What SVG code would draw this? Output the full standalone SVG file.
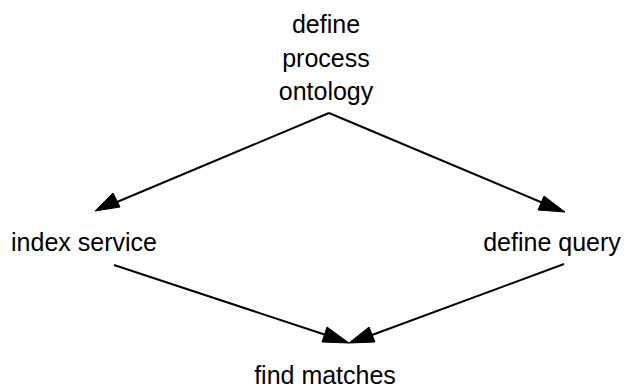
<svg xmlns="http://www.w3.org/2000/svg" width="628" height="389" viewBox="0 0 628 389">
<style>
text{font-family:"Liberation Sans",Arial,sans-serif;font-size:25px;fill:#000;text-anchor:middle}
.e{stroke:#000;stroke-width:2;fill:none}
.h{fill:#000;stroke:#000;stroke-width:1}
</style>
<rect width="628" height="389" fill="#fff"/>
<g id="connectors">
<line class="e" x1="329" y1="113" x2="117" y2="202"/>
<polygon class="h" points="95,211 113,193 120,207"/>
<line class="e" x1="329" y1="113" x2="543" y2="203"/>
<polygon class="h" points="565,212 538,210 544,196"/>
<line class="e" x1="114" y1="265" x2="326" y2="335"/>
<polygon class="h" points="349,343 322,342 327,327"/>
<line class="e" x1="564" y1="264" x2="372" y2="335"/>
<polygon class="h" points="349,343 369,327 375,342"/>
</g>
<g id="n1"><text x="326" y="33">define</text><text x="326" y="67">process</text><text x="326" y="100">ontology</text></g>
<g id="n2"><text x="84" y="251">index service</text></g>
<g id="n3"><text x="552" y="251">define query</text></g>
<g id="n4"><text x="325" y="384">find matches</text></g>
</svg>
